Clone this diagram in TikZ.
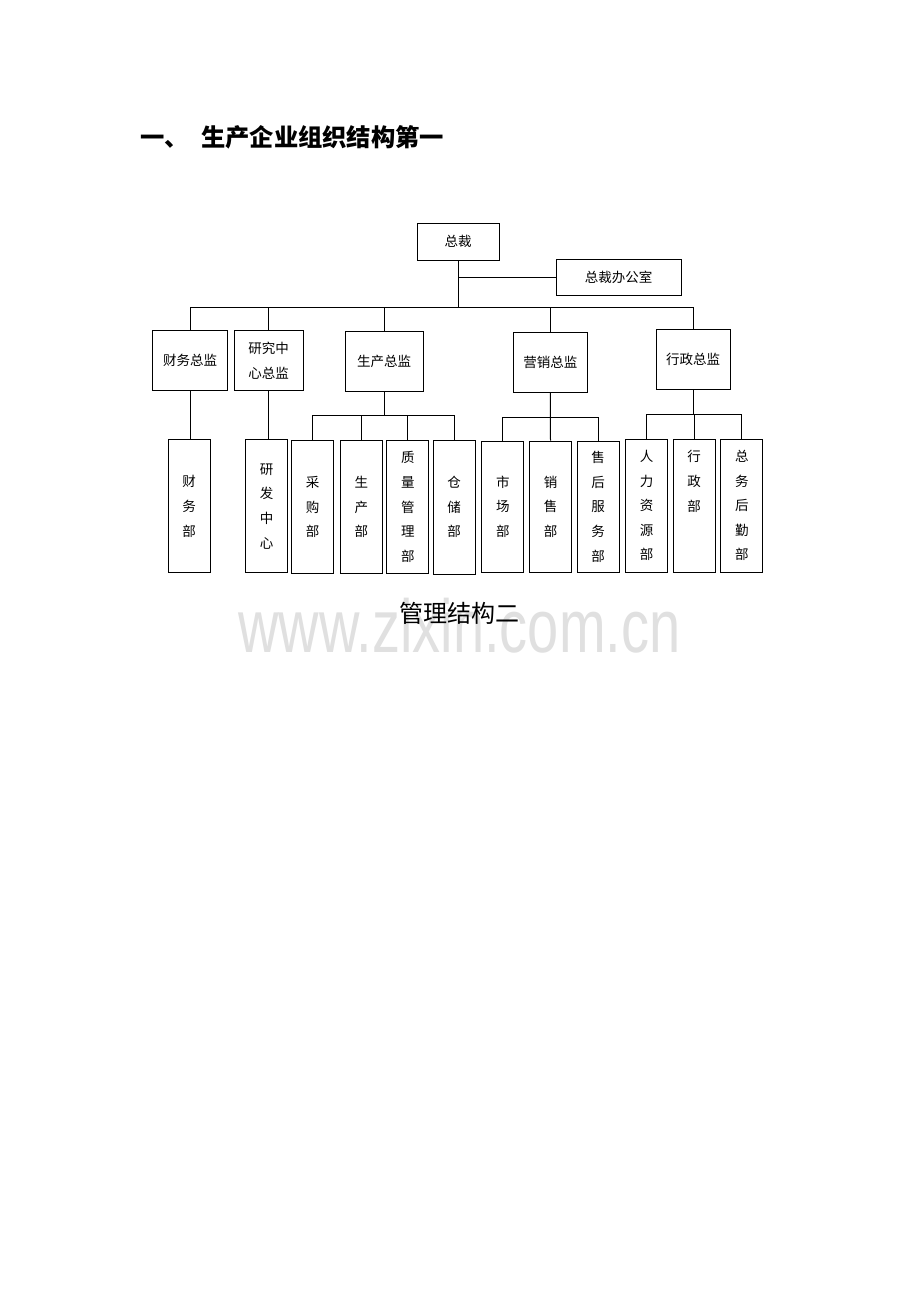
\documentclass[tikz,border=0pt]{standalone}
\usepackage{fontspec}
\newfontfamily\cjk{Noto Sans CJK SC}
\newfontfamily\wmfont{Liberation Sans}
\usepackage{tikz}
\usetikzlibrary{positioning}

\begin{document}
\begin{tikzpicture}[x=1pt,y=-1pt,
  box/.style={draw,line width=1pt,inner sep=0pt,align=center,
    font=\cjk\fontsize{13.5}{24.6}\selectfont},
  vbox/.style={box,minimum width=42pt,minimum height=132pt},
  link/.style={line width=1pt}]
 \path[fill=white] (0,0) rectangle (920,1302);
 \useasboundingbox (0,0) rectangle (920,1302);

 \node[anchor=west,font=\cjk\bfseries\fontsize{24.3}{26}\selectfont] (title) at (137,137) {一、\hspace{12pt}生产企业组织结构第一};

 \node[box,minimum width=82pt,minimum height=37pt] (zc) at (458,241.5) {总裁};
 \node[box,minimum width=125pt,minimum height=36pt] (office) at (618.5,277) {总裁办公室};

 \node[box,minimum width=75pt,minimum height=60pt] (cw) at (190,360.5) {财务总监};
 \node[box,minimum width=69pt,minimum height=60pt] (yj) at (268.7,360.5) {研究中\\心总监};
 \node[box,minimum width=78pt,minimum height=60pt] (sc) at (384.2,361) {生产总监};
 \node[box,minimum width=74pt,minimum height=60pt] (yx) at (550.3,362.3) {营销总监};
 \node[box,minimum width=74pt,minimum height=60pt] (xz) at (693,359.2) {行政总监};

 \coordinate (bar) at (0,307);
 \draw[link] (zc.south) -- (zc.south |- bar);
 \draw[link] (zc.south |- office) -- (office.west);
 \draw[link] (cw.north |- bar) -- (xz.north |- bar);
 \draw[link] (cw.north) -- (cw.north |- bar);
 \draw[link] (yj.north) -- (yj.north |- bar);
 \draw[link] (sc.north) -- (sc.north |- bar);
 \draw[link] (yx.north) -- (yx.north |- bar);
 \draw[link] (xz.north) -- (xz.north |- bar);

 % departments
 \node[vbox,minimum height=133pt] (cwb) at (189,506.4) {财\\务\\部};
 \node[vbox,minimum height=133pt] (yfb) at (266.5,506.4) {研\\发\\中\\心};

 \node[vbox,minimum height=133pt] (cg) at (312.7,507.2) {采\\购\\部};
 \node[vbox,minimum height=133pt] (scb) at (361.3,507) {生\\产\\部};
 \node[vbox,minimum height=133pt] (zl) at (407.9,507) {质\\量\\管\\理\\部};
 \node[vbox,minimum height=134pt] (cc) at (454.2,507) {仓\\储\\部};

 \node[vbox,minimum height=131pt] (scbm) at (502.9,506.7) {市\\场\\部};
 \node[vbox,minimum height=131pt] (xs) at (550.5,506.7) {销\\售\\部};
 \node[vbox,minimum height=131pt] (sh) at (598,506.7) {售\\后\\服\\务\\部};

 \node[vbox,minimum height=133pt] (rl) at (646.7,505.5) {人\\力\\资\\源\\部};
 \node[vbox,minimum height=133pt] (xzb) at (694.2,505.5) {行\\政\\部\\~\\~};
 \node[vbox,minimum height=133pt] (zw) at (741.9,505.5) {总\\务\\后\\勤\\部};

 \draw[link] (cw.south) -- (cw.south |- cwb.north);
 \draw[link] (yj.south) -- (yj.south |- yfb.north);

 \coordinate (scbar) at (0,415.3);
 \draw[link] (sc.south) -- (sc.south |- scbar);
 \draw[link] (cg.north) -- (cg.north |- scbar) -| (cc.north);
 \draw[link] (scb.north) -- (scb.north |- scbar);
 \draw[link] (zl.north) -- (zl.north |- scbar);

 \coordinate (yxbar) at (0,417.3);
 \draw[link] (yx.south) -- (xs.north);
 \draw[link] (scbm.north) -- (scbm.north |- yxbar) -| (sh.north);

 \coordinate (xzbar) at (0,414.7);
 \draw[link] (xz.south) -- (xz.south |- xzbar);
 \draw[link] (rl.north) -- (rl.north |- xzbar) -| (zw.north);
 \draw[link] (xzb.north) -- (xzb.north |- xzbar);

 \node[text=black!12,font=\wmfont\fontsize{56}{60}\selectfont,anchor=base,inner sep=0pt] (wm) at (459.5,652) {\scalebox{1}[1.34]{www.zixin.com.cn}};
 \node[font=\cjk\fontsize{24}{26}\selectfont] (cap) at (459.5,613) {管理结构二};
\end{tikzpicture}
\end{document}
